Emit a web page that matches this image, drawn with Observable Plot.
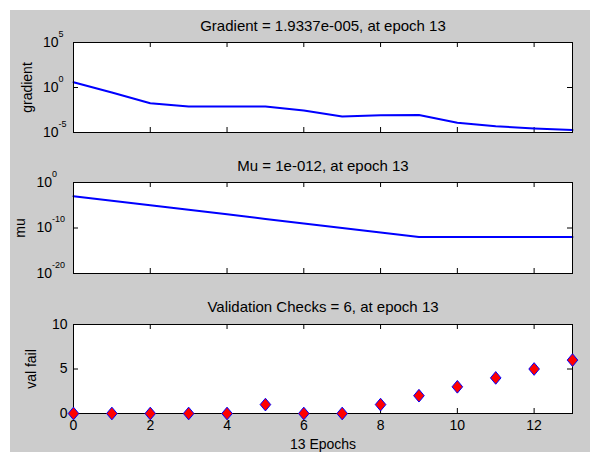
<!DOCTYPE html>
<html>
<head>
<meta charset="utf-8">
<script src="https://cdn.jsdelivr.net/npm/d3@7"></script>
<script src="https://cdn.jsdelivr.net/npm/@observablehq/plot@0.6"></script>
<style>
  html, body { margin: 0; padding: 0; background: #ffffff; }
  #page { position: relative; width: 595px; height: 452px; overflow: hidden; font-family: "Liberation Sans", Arial, sans-serif; }
  #bg { position: absolute; left: 10px; top: 10px; width: 580px; height: 442px; background: #cccccc; }
  .panel { position: absolute; left: 0; }
</style>
</head>
<body>
<div id="page"><div id="bg"></div></div>
<script>
// ---- data ----
const epochs = [0, 1, 2, 3, 4, 5, 6, 7, 8, 9, 10, 11, 12, 13];
const gradient = [3.9, 0.28, 0.018, 0.0078, 0.0078, 0.0076, 0.0028, 0.0006, 0.00085, 0.0009, 0.00012, 0.00005, 0.000028, 0.000019337];
const mu = [1e-3, 1e-4, 1e-5, 1e-6, 1e-7, 1e-8, 1e-9, 1e-10, 1e-11, 1e-12, 1e-12, 1e-12, 1e-12, 1e-12];
const valFail = [0, 0, 0, 0, 0, 1, 0, 0, 1, 2, 3, 4, 5, 6];

const titles = ["Gradient = 1.9337e-005, at epoch 13", "Mu = 1e-012, at epoch 13", "Validation Checks = 6, at epoch 13"];
const yLabels = ["gradient", "mu", "val fail"];
const xLabel = "13 Epochs";

const xTicks = [0, 2, 4, 6, 8, 10, 12];
const gradTicks = [1e-5, 1e0, 1e5];
const gradTickExp = ["-5", "0", "5"];
const muTicks = [1e-20, 1e-10, 1e0];
const muTickExp = ["-20", "-10", "0"];
const valTicks = [0, 5, 10];
const valTickLabels = ["0", "5", "10"];

// ---- layout helpers ----
const W = 595, ML = 73, MR = 23;
const frameW = W - ML - MR;
const FONT = '"Liberation Sans", Arial, sans-serif';
const diamond = {
  draw(ctx, size) {
    const s = Math.sqrt(size);
    const h = s * 0.55, w = s * 0.46;
    ctx.moveTo(0, -h); ctx.lineTo(w, 0); ctx.lineTo(0, h); ctx.lineTo(-w, 0); ctx.closePath();
  }
};

function frameMarks(frameH, yTicks) {
  return [
    Plot.tickX(xTicks, {x: d => d, insetTop: frameH - 5, stroke: "#000", strokeWidth: 1}),
    Plot.tickX(xTicks, {x: d => d, insetBottom: frameH - 5, stroke: "#000", strokeWidth: 1}),
    Plot.tickY(yTicks, {y: d => d, insetRight: frameW - 5, stroke: "#000", strokeWidth: 1}),
    Plot.tickY(yTicks, {y: d => d, insetLeft: frameW - 5, stroke: "#000", strokeWidth: 1})
  ];
}

function addPanel(top, svg) {
  const div = document.createElement("div");
  div.className = "panel";
  div.style.top = top + "px";
  div.appendChild(svg);
  document.getElementById("page").appendChild(div);
}

const baseStyle = {background: "transparent", overflow: "visible", fontFamily: FONT, color: "#000"};

// ---- panel 1: gradient ----
{
  const mt = 32, frameH = 90, mb = 18;
  const svg = Plot.plot({
    width: W, height: mt + frameH + mb,
    marginLeft: ML, marginRight: MR, marginTop: mt, marginBottom: mb,
    style: baseStyle,
    x: {domain: [0, 13], axis: null},
    y: {type: "log", domain: [1e-5, 1e5], axis: null},
    marks: [
      Plot.frame({fill: "white", stroke: null}),
      ...frameMarks(frameH, gradTicks),
      Plot.line(epochs, {x: epochs, y: gradient, stroke: "#0000ff", strokeWidth: 2}),
      Plot.frame({stroke: "#000", strokeWidth: 1}),
      Plot.text([titles[0]], {frameAnchor: "top", dy: -16, lineAnchor: "middle", fontSize: 15, fill: "#000"}),
      Plot.text([yLabels[0]], {frameAnchor: "left", dx: -46, rotate: -90, lineAnchor: "middle", textAnchor: "middle", fontSize: 14, fill: "#000"}),
      Plot.text(gradTicks, {y: d => d, text: () => "10", frameAnchor: "left", dx: -30.5, textAnchor: "start", lineAnchor: "middle", fontSize: 14, fill: "#000"}),
      Plot.text(gradTicks, {y: d => d, text: (d, i) => gradTickExp[i], frameAnchor: "left", dx: -15, dy: -8.5, textAnchor: "start", lineAnchor: "middle", fontSize: 9, fill: "#000"})
    ]
  });
  addPanel(10, svg);
}

// ---- panel 2: mu ----
{
  const mt = 32, frameH = 91, mb = 17;
  const svg = Plot.plot({
    width: W, height: mt + frameH + mb,
    marginLeft: ML, marginRight: MR, marginTop: mt, marginBottom: mb,
    style: baseStyle,
    x: {domain: [0, 13], axis: null},
    y: {type: "log", domain: [1e-20, 1e0], axis: null},
    marks: [
      Plot.frame({fill: "white", stroke: null}),
      ...frameMarks(frameH, muTicks),
      Plot.line(epochs, {x: epochs, y: mu, stroke: "#0000ff", strokeWidth: 2}),
      Plot.frame({stroke: "#000", strokeWidth: 1}),
      Plot.text([titles[1]], {frameAnchor: "top", dy: -16, lineAnchor: "middle", fontSize: 15, fill: "#000"}),
      Plot.text([yLabels[1]], {frameAnchor: "left", dx: -53, rotate: -90, lineAnchor: "middle", textAnchor: "middle", fontSize: 14, fill: "#000"}),
      Plot.text(muTicks, {y: d => d, text: () => "10", frameAnchor: "left", dx: -37, textAnchor: "start", lineAnchor: "middle", fontSize: 14, fill: "#000"}),
      Plot.text(muTicks, {y: d => d, text: (d, i) => muTickExp[i], frameAnchor: "left", dx: -21.5, dy: -8.5, textAnchor: "start", lineAnchor: "middle", fontSize: 9, fill: "#000"})
    ]
  });
  addPanel(150, svg);
}

// ---- panel 3: validation checks ----
{
  const mt = 34, frameH = 89, mb = 39;
  const svg = Plot.plot({
    width: W, height: mt + frameH + mb,
    marginLeft: ML, marginRight: MR, marginTop: mt, marginBottom: mb,
    style: baseStyle,
    x: {domain: [0, 13], axis: null},
    y: {domain: [0, 10], axis: null},
    marks: [
      Plot.frame({fill: "white", stroke: null}),
      ...frameMarks(frameH, valTicks),
      Plot.frame({stroke: "#000", strokeWidth: 1}),
      Plot.dot(epochs, {x: epochs, y: valFail, r: 6.5, symbol: diamond, fill: "#ff0000", stroke: "#0000ff", strokeWidth: 1}),
      Plot.text([titles[2]], {frameAnchor: "top", dy: -17, lineAnchor: "middle", fontSize: 15, fill: "#000"}),
      Plot.text([yLabels[2]], {frameAnchor: "left", dx: -41.5, rotate: -90, lineAnchor: "middle", textAnchor: "middle", fontSize: 14, fill: "#000"}),
      Plot.text(valTicks, {y: d => d, text: (d, i) => valTickLabels[i], frameAnchor: "left", dx: -6, textAnchor: "end", lineAnchor: "middle", fontSize: 14, fill: "#000"}),
      Plot.text(xTicks, {x: d => d, frameAnchor: "bottom", dy: 12.5, lineAnchor: "middle", fontSize: 14, fill: "#000"}),
      Plot.text([xLabel], {frameAnchor: "bottom", dy: 31, lineAnchor: "middle", fontSize: 14, fill: "#000"})
    ]
  });
  addPanel(290, svg);
}
</script>
</body>
</html>
